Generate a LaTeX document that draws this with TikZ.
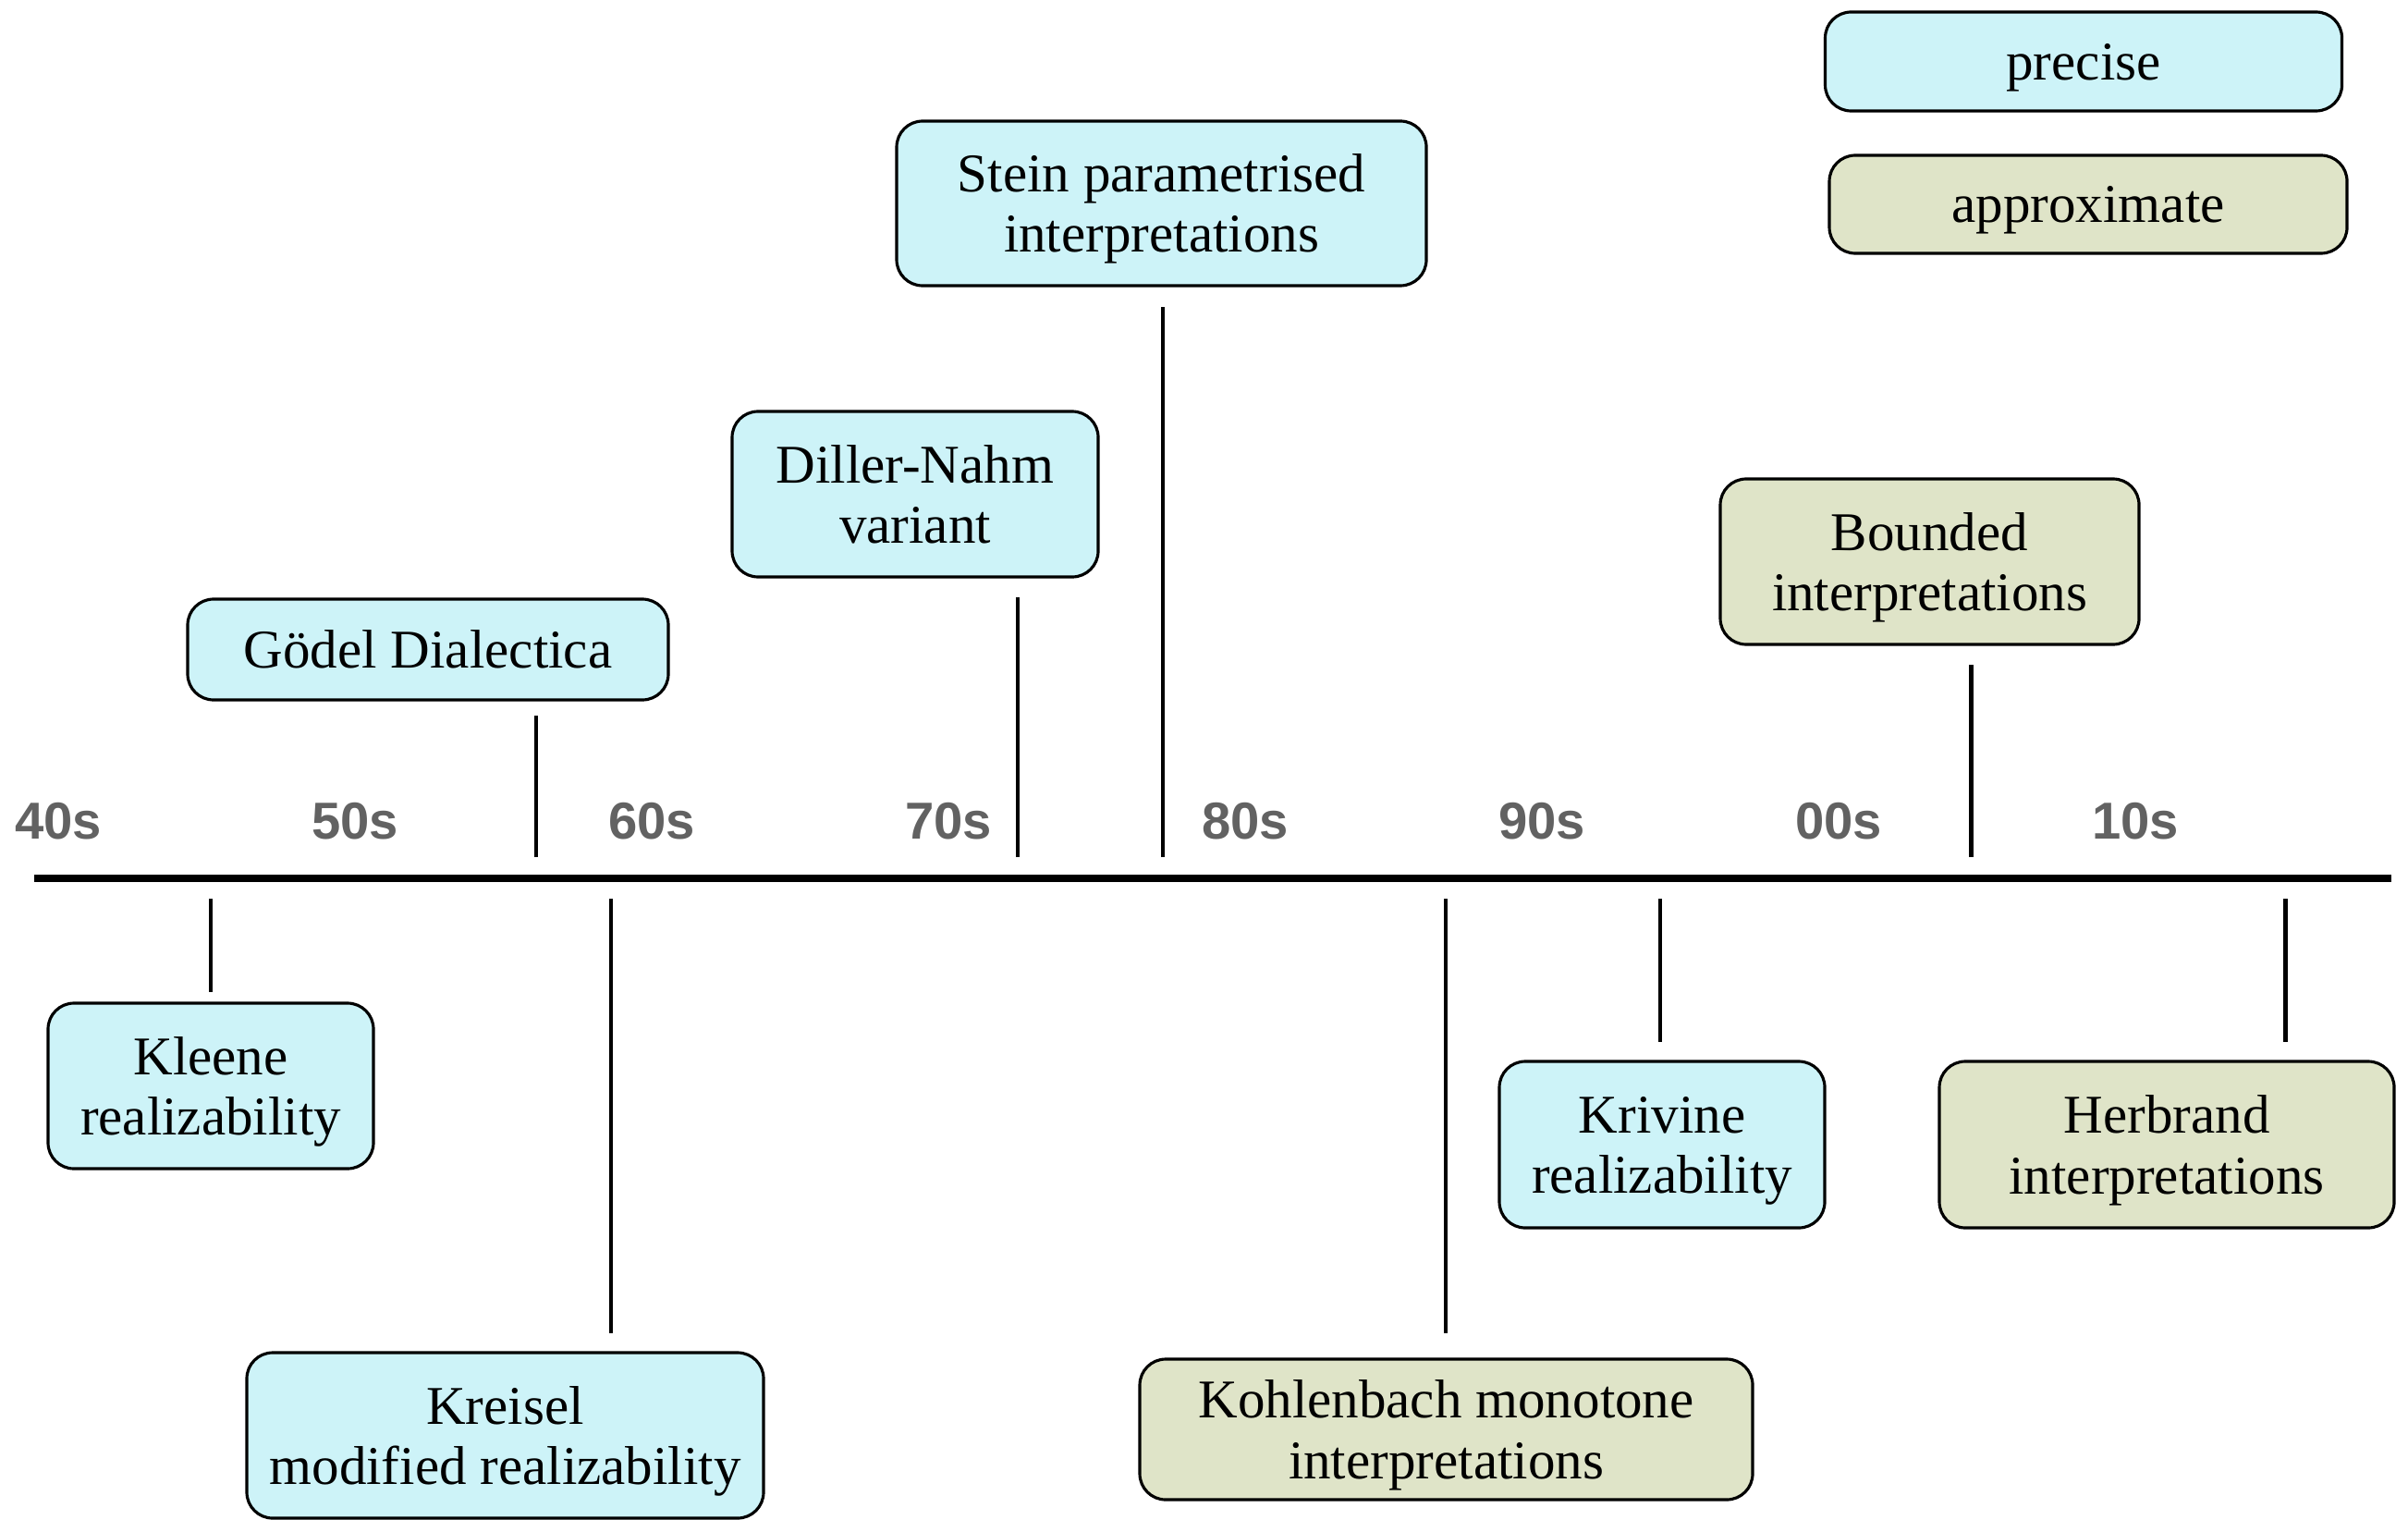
\documentclass[tikz,border=0pt]{standalone}
\usepackage{fontspec}
\setmainfont{Liberation Serif}
\newfontfamily\decadefont{Liberation Sans}
\definecolor{precisefill}{RGB}{205,243,248}
\definecolor{approxfill}{RGB}{223,228,200}
\definecolor{decadegray}{RGB}{98,98,98}
\tikzset{
  event/.style={draw, line width=0.9pt, rounded corners=0.28cm, align=center,
    inner sep=0pt, text depth=0pt, font=\fontsize{16.8}{18.5}\selectfont},
  precise/.style={event, fill=precisefill},
  approx/.style={event, fill=approxfill},
  tick/.style={line width=1.4pt},
  decade/.style={anchor=base, text=decadegray, font=\decadefont\bfseries\fontsize{16}{18}\selectfont}
}
\begin{document}
\begin{tikzpicture}
        \useasboundingbox (0,0) rectangle (26.05,-16.43);
        %% legend
        \node[precise, minimum width=5.59cm, minimum height=1.07cm] (legprecise) at (22.54,-0.665) {precise};
        \node[approx, minimum width=5.60cm, minimum height=1.06cm] (legapprox) at (22.59,-2.21) {approximate};
        %% time line and decades
        \coordinate (start) at (0.37,-9.50);
        \coordinate (end) at (25.87,-9.50);
        \draw[line width=2pt] (start) -- (end);
        \foreach \d [count=\i from 0] in {40s,50s,60s,70s,80s,90s,00s,10s}
            \node[decade] (dec\i) at (0.63+3.21*\i,-9.07) {\d};
        %% above the line
        \node[precise, minimum width=5.20cm, minimum height=1.09cm] (goedel) at (4.63,-7.025) {Gödel Dialectica};
        \node[precise, minimum width=3.96cm, minimum height=1.79cm] (diller) at (9.90,-5.345) {Diller-Nahm\\variant};
        \node[precise, minimum width=5.73cm, minimum height=1.78cm] (stein) at (12.565,-2.20) {Stein parametrised\\interpretations};
        \node[approx, minimum width=4.53cm, minimum height=1.79cm] (bounded) at (20.875,-6.075) {Bounded\\interpretations};
        \coordinate (t-goedel) at (5.80,-9.27);
        \coordinate (t-diller) at (11.01,-9.27);
        \coordinate (t-stein) at (12.58,-9.27);
        \coordinate (t-bounded) at (21.32,-9.27);
        \draw[tick] (t-goedel) -- ([yshift=-0.15cm]goedel.south -| t-goedel);
        \draw[tick] (t-diller) -- ([yshift=-0.20cm]diller.south -| t-diller);
        \draw[tick] (t-stein) -- ([yshift=-0.21cm]stein.south -| t-stein);
        \draw[tick] (t-bounded) -- ([yshift=-0.20cm]bounded.south -| t-bounded);
        %% below the line
        \node[precise, minimum width=3.52cm, minimum height=1.79cm] (kleene) at (2.28,-11.745) {Kleene\\realizability};
        \node[precise, minimum width=5.59cm, minimum height=1.79cm] (kreisel) at (5.465,-15.525) {Kreisel\\modified realizability};
        \node[approx, minimum width=6.63cm, minimum height=1.52cm] (kohlenbach) at (15.645,-15.46) {Kohlenbach monotone\\interpretations};
        \node[precise, minimum width=3.52cm, minimum height=1.80cm] (krivine) at (17.98,-12.38) {Krivine\\realizability};
        \node[approx, minimum width=4.92cm, minimum height=1.80cm] (herbrand) at (23.44,-12.38) {Herbrand\\interpretations};
        \coordinate (t-kleene) at (2.28,-9.72);
        \coordinate (t-kreisel) at (6.61,-9.72);
        \coordinate (t-kohlenbach) at (15.64,-9.72);
        \coordinate (t-krivine) at (17.96,-9.72);
        \coordinate (t-herbrand) at (24.72,-9.72);
        \draw[tick] (t-kleene) -- ([yshift=0.10cm]kleene.north -| t-kleene);
        \draw[tick] (t-kreisel) -- ([yshift=0.19cm]kreisel.north -| t-kreisel);
        \draw[tick] (t-kohlenbach) -- ([yshift=0.26cm]kohlenbach.north -| t-kohlenbach);
        \draw[tick] (t-krivine) -- ([yshift=0.19cm]krivine.north -| t-krivine);
        \draw[tick] (t-herbrand) -- ([yshift=0.19cm]herbrand.north -| t-herbrand);
\end{tikzpicture}
\end{document}
